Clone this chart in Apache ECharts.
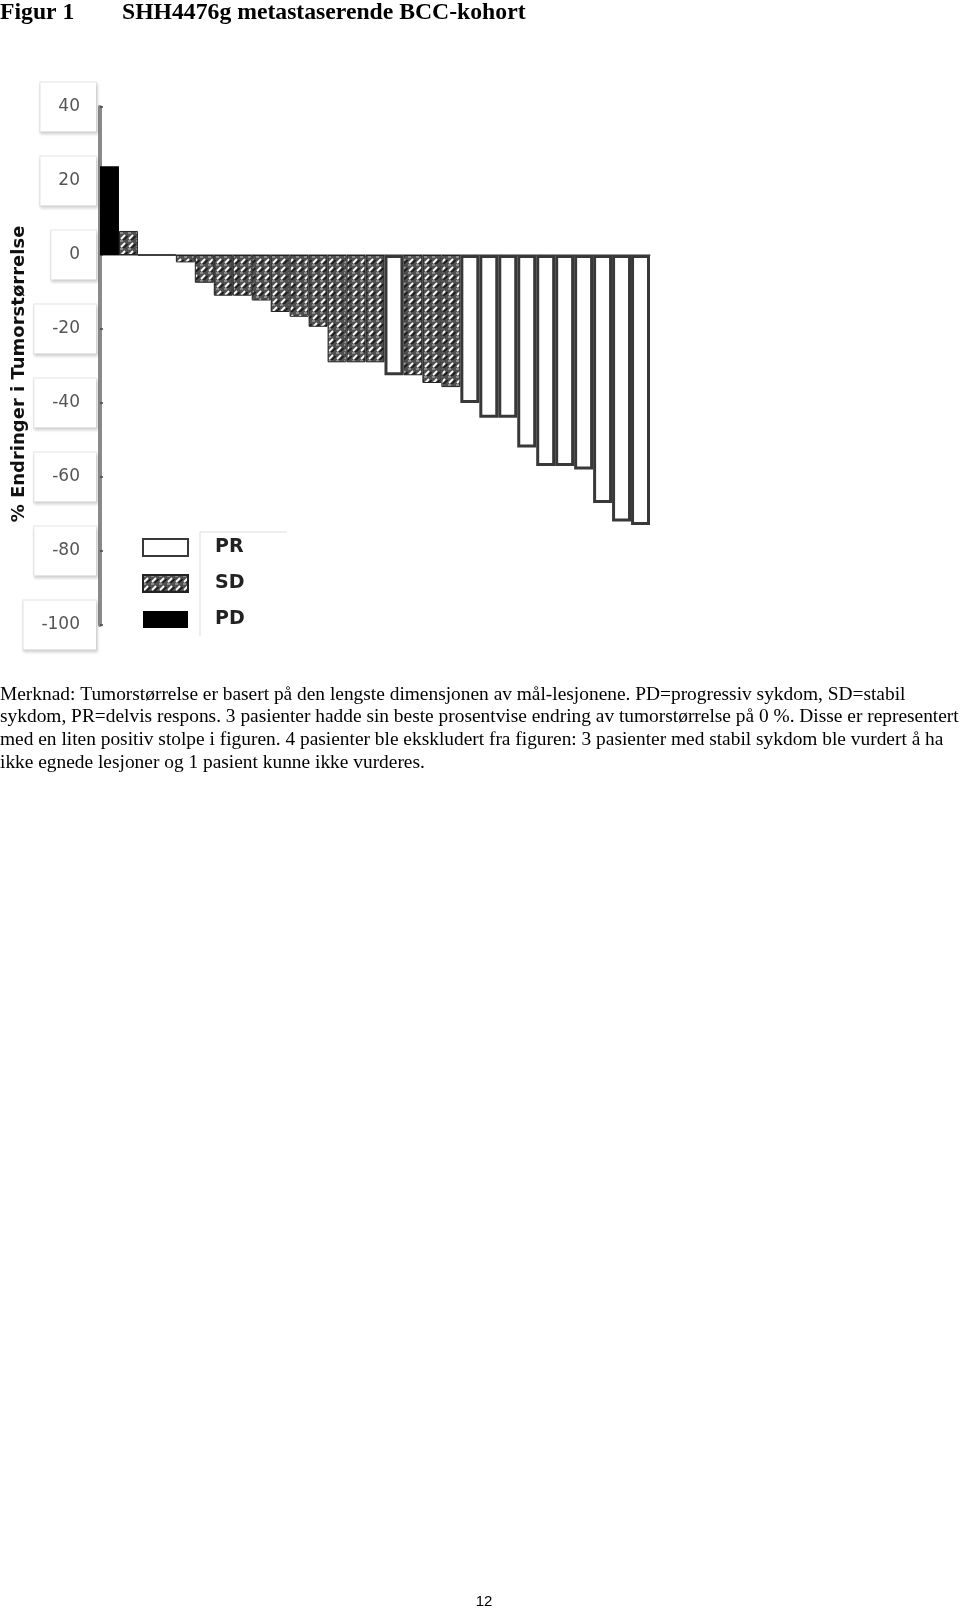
<!DOCTYPE html>
<html>
<head>
<meta charset="utf-8">
<script src="https://cdn.jsdelivr.net/npm/echarts@6/dist/echarts.min.js"></script>
<style>
html,body{margin:0;padding:0;background:#fff;}
#c{width:960px;height:1610px;}
</style>
</head>
<body>
<div id="c"></div>
<script>
// ---- data ----
const categories = ['1','2','3','4','5','6','7','8','9','10','11','12','13','14','15','16','17','18','19','20','21','22','23','24','25','26','27','28','29'];
const values = [24, 6.5, 0, 0, -2, -7.5, -11, -11, -12.3, -15.4, -16.7, -19.4, -29, -29, -29, -32.5, -32.5, -34.6, -35.7, -40, -44, -44, -52, -57, -57, -58, -67, -72, -73];
const responses = ['PD','SD','SD','SD','SD','SD','SD','SD','SD','SD','SD','SD','SD','SD','SD','PR','SD','SD','SD','PR','PR','PR','PR','PR','PR','PR','PR','PR','PR'];
const legendNames = ['PR','SD','PD'];
const yMin = -100, yMax = 40, yStep = 20;
const titleLeft = 'Figur 1';
const titleRight = 'SHH4476g metastaserende BCC-kohort';
const yTitle = '% Endringer i Tumorstørrelse';
const noteLines = [
  'Merknad: Tumorstørrelse er basert på den lengste dimensjonen av mål-lesjonene. PD=progressiv sykdom, SD=stabil',
  'sykdom, PR=delvis respons. 3 pasienter hadde sin beste prosentvise endring av tumorstørrelse på 0 %. Disse er representert',
  'med en liten positiv stolpe i figuren. 4 pasienter ble ekskludert fra figuren: 3 pasienter med stabil sykdom ble vurdert å ha',
  'ikke egnede lesjoner og 1 pasient kunne ikke vurderes.'
];
const pageNumber = '12';

// ---- hatch pattern for SD ----
function makeHatch() {
  const c = document.createElement('canvas');
  c.width = 8; c.height = 8;
  const g = c.getContext('2d');
  g.fillStyle = '#505050'; g.fillRect(0, 0, 8, 8);
  g.strokeStyle = '#1a1a1a'; g.lineWidth = 1.6;
  g.beginPath(); g.moveTo(3.5, 8); g.lineTo(7.5, 4); g.stroke();
  g.strokeStyle = '#ffffff'; g.lineWidth = 1.8;
  g.beginPath(); g.moveTo(1, 7); g.lineTo(5, 3); g.stroke();
  g.fillStyle = '#8c8c8c'; g.fillRect(0, 0, 3, 2);
  return c;
}
const hatch = { image: makeHatch(), repeat: 'repeat' };

const styles = {
  PR: { color: '#ffffff', borderColor: '#383838', borderWidth: 3 },
  SD: { color: hatch, borderColor: '#222222', borderWidth: 1 },
  PD: { color: '#000000', borderColor: '#000000', borderWidth: 0 }
};

const series = legendNames.map(name => ({
  name: name,
  type: 'bar',
  stack: 'all',
  barCategoryGap: '0%',
  data: values.map((v, i) => responses[i] === name ? v : '-'),
  itemStyle: styles[name]
}));

const chart = echarts.init(document.getElementById('c'), null, { renderer: 'canvas' });
chart.setOption({
  animation: false,
  backgroundColor: '#ffffff',
  grid: { left: 100, top: 107, width: 550, height: 518, containLabel: false },
  xAxis: {
    type: 'category',
    data: categories,
    axisLine: { show: true, onZero: true, lineStyle: { color: '#777', width: 1.5 } },
    axisTick: { show: false },
    axisLabel: { show: false },
    splitLine: { show: false }
  },
  yAxis: {
    type: 'value',
    min: yMin, max: yMax, interval: yStep,
    axisLine: { show: true, lineStyle: { color: '#8a8a8a', width: 4 } },
    axisTick: { show: true, inside: true, length: 3, lineStyle: { color: '#444', width: 1.5 } },
    splitLine: { show: false },
    axisLabel: {
      margin: 4,
      color: '#555',
      fontFamily: 'DejaVu Sans',
      fontSize: 17,
      backgroundColor: '#ffffff',
      borderColor: '#e4e4e4',
      borderWidth: 1,
      padding: [16, 16, 16, 18],
      shadowColor: 'rgba(0,0,0,0.13)',
      shadowBlur: 3,
      shadowOffsetX: 1,
      shadowOffsetY: 2
    }
  },
  legend: {
    orient: 'vertical',
    left: 142,
    top: 538,
    padding: 0,
    icon: 'rect',
    itemWidth: 45,
    itemHeight: 17,
    itemGap: 17,
    selectedMode: false,
    data: legendNames,
    textStyle: { fontFamily: 'DejaVu Sans', fontWeight: 'bold', fontSize: 19, color: '#222', padding: [0, 0, 0, 22] }
  },
  series: series,
  graphic: [
    { type: 'text', x: 0, y: 12.5, style: { text: titleLeft, font: 'bold 23.7px "Liberation Serif"', fill: '#000', align: 'left', verticalAlign: 'middle' } },
    { type: 'text', x: 122, y: 12.5, style: { text: titleRight, font: 'bold 23.7px "Liberation Serif"', fill: '#000', align: 'left', verticalAlign: 'middle' } },
    { type: 'text', x: 19, y: 374, rotation: Math.PI / 2, style: { text: yTitle, font: 'bold 18px "DejaVu Sans"', fill: '#111', align: 'center', verticalAlign: 'middle' } },
    { type: 'polyline', shape: { points: [[200, 636], [200, 532], [287, 532]] }, style: { stroke: '#dedede', lineWidth: 1, fill: null } },
    { type: 'text', x: 0, y: 683.5, style: { text: noteLines.join('\n'), font: '19.4px "Liberation Serif"', lineHeight: 22.6, fill: '#000', align: 'left', verticalAlign: 'top' } },
    { type: 'text', x: 484, y: 1602, style: { text: pageNumber, font: '15px "Liberation Sans"', fill: '#000', align: 'center', verticalAlign: 'middle' } }
  ]
});
</script>
</body>
</html>
